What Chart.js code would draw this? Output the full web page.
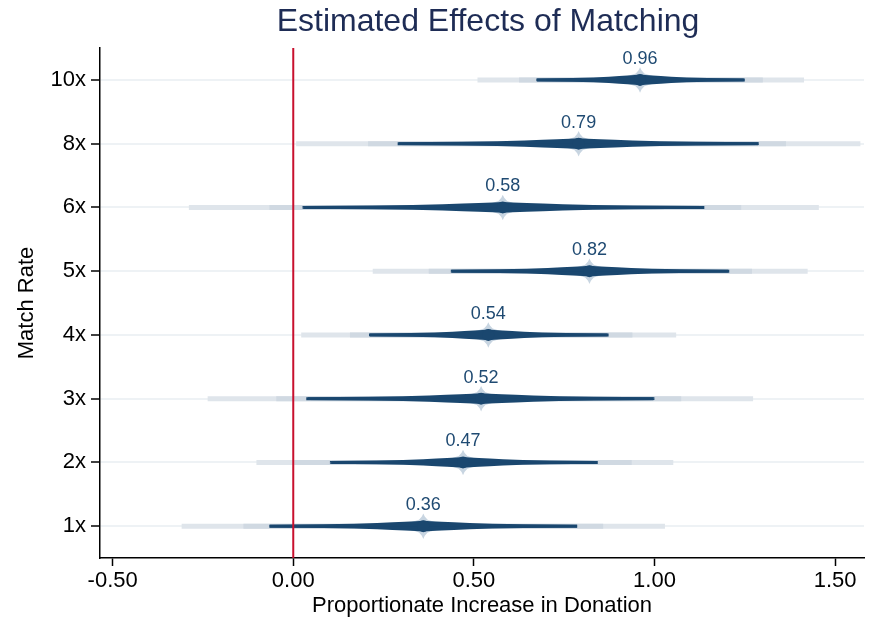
<!DOCTYPE html>
<html lang="en">
<head>
<meta charset="UTF-8">
<title>Estimated Effects of Matching</title>
<script src="https://cdn.jsdelivr.net/npm/chart.js"></script>
<style>
    body { margin: 0; background: #fff; }
</style>
</head>
<body>
<canvas id="effectsChart" width="870" height="619"></canvas>
<script>
// rows from bottom to top
const matchRates = ['1x', '2x', '3x', '4x', '5x', '6x', '8x', '10x'];
const estimates  = [0.36, 0.47, 0.52, 0.54, 0.82, 0.58, 0.79, 0.96];
// dark band
const ci90Low  = [-0.066, 0.105, 0.036, 0.212, 0.438, 0.028, 0.289, 0.675];
const ci90High = [ 0.786, 0.843, 0.997, 0.873, 1.207, 1.138, 1.287, 1.250];
// middle grey band
const ci95Low  = [-0.138, 0.003, -0.047, 0.157, 0.375, -0.066, 0.207, 0.625];
const ci95High = [ 0.858, 0.937, 1.074, 0.939, 1.270, 1.240, 1.364, 1.300];
// pale outer band
const ci99Low  = [-0.309, -0.102, -0.237, 0.022, 0.220, -0.289, 0.008, 0.510];
const ci99High = [ 1.029, 1.052, 1.273, 1.060, 1.424, 1.455, 1.570, 1.414];
const xTicks = [-0.5, 0, 0.5, 1, 1.5];

// violin outline:
// offset as a share of the dark band half-width, half-height in row units
const violinOffset = [-1, -0.65, -0.45, -0.3, -0.2, -0.12, -0.05, 0, 0.05, 0.12, 0.2, 0.3, 0.45, 0.65, 1];
const violinHalf   = [0.022, 0.028, 0.037, 0.05, 0.062, 0.07, 0.078, 0.086, 0.078, 0.07, 0.062, 0.05, 0.037, 0.028, 0.022];
// pale spike behind each estimate (offset in x units, half-height in row units)
const spikeOffset = [-0.06, -0.03, -0.012, -0.004, 0, 0.004, 0.012, 0.03, 0.06];
const spikeHalf   = [0.03, 0.07, 0.1, 0.15, 0.2, 0.15, 0.1, 0.07, 0.03];

const navy = '#1a476f';
const font = '"Liberation Sans", Arial, sans-serif';

function segment(lo, hi, y, color, width, order) {
    return {
        type: 'line',
        data: [{x: lo, y: y}, {x: hi, y: y}],
        borderColor: color,
        borderWidth: width,
        borderCapStyle: 'butt',
        pointRadius: 0,
        order: order
    };
}

function area(points, y, color, order) {
    return {
        type: 'line',
        data: points,
        borderWidth: 0,
        pointRadius: 0,
        backgroundColor: color,
        fill: {value: y},
        order: order
    };
}

const datasets = [];
matchRates.forEach(function (rate, i) {
    const y = i + 1;
    const est = estimates[i];
    const half = (ci90High[i] - ci90Low[i]) / 2;

    datasets.push(segment(ci99Low[i], ci99High[i], y, '#dfe5eb', 5, 10));
    datasets.push(segment(ci95Low[i], ci95High[i], y, '#d0d9e2', 5, 9));

    datasets.push(area(spikeOffset.map((o, k) => ({x: est + o, y: y + spikeHalf[k]})), y, '#c8d5e1', 8));
    datasets.push(area(spikeOffset.map((o, k) => ({x: est + o, y: y - spikeHalf[k]})), y, '#c8d5e1', 8));

    datasets.push(segment(ci90Low[i], ci90High[i], y, navy, 3, 7));

    datasets.push(area(violinOffset.map((o, k) => ({x: est + o * half, y: y + violinHalf[k]})), y, navy, 6));
    datasets.push(area(violinOffset.map((o, k) => ({x: est + o * half, y: y - violinHalf[k]})), y, navy, 6));

    datasets.push({
        type: 'scatter',
        data: [{x: est, y: y}],
        pointRadius: 6,
        pointBackgroundColor: navy,
        pointBorderWidth: 0,
        order: 5
    });
});

// zero reference line
datasets.push({
    type: 'line',
    data: [{x: 0, y: 0.5}, {x: 0, y: 8.5}],
    borderColor: '#c8102e',
    borderWidth: 2,
    pointRadius: 0,
    order: 1
});

const valueLabels = {
    id: 'valueLabels',
    afterDatasetsDraw(chart) {
        const ctx = chart.ctx;
        const xs = chart.scales.x;
        const ys = chart.scales.y;
        ctx.save();
        ctx.font = '18px ' + font;
        ctx.fillStyle = '#1f4a72';
        ctx.textAlign = 'center';
        ctx.textBaseline = 'middle';
        estimates.forEach(function (est, i) {
            ctx.fillText(est.toFixed(2), xs.getPixelForValue(est), ys.getPixelForValue(i + 1) - 21);
        });
        ctx.restore();
    }
};

const chartTitle = {
    id: 'chartTitle',
    afterDraw(chart) {
        const ctx = chart.ctx;
        const area = chart.chartArea;
        ctx.save();
        ctx.font = '32px ' + font;
        ctx.fillStyle = '#1e2c55';
        ctx.textAlign = 'center';
        ctx.textBaseline = 'middle';
        ctx.fillText('Estimated Effects of Matching', (area.left + area.right) / 2 + 6, 22);
        ctx.restore();
    }
};

new Chart(document.getElementById('effectsChart'), {
    data: {datasets: datasets},
    options: {
        responsive: false,
        animation: false,
        devicePixelRatio: 1,
        layout: {padding: {top: 48, right: 2, left: 0, bottom: 0}},
        plugins: {
            legend: {display: false},
            tooltip: {enabled: false}
        },
        scales: {
            x: {
                type: 'linear',
                min: -0.535,
                max: 1.58,
                afterBuildTicks: s => { s.ticks = xTicks.map(v => ({value: v})); },
                afterFit: s => { s.height = 61; },
                ticks: {
                    callback: v => Number(v).toFixed(2),
                    font: {size: 22, family: font},
                    color: '#000',
                    padding: 2,
                    maxRotation: 0
                },
                grid: {drawOnChartArea: false, tickColor: '#000', tickLength: 8, tickWidth: 1.5},
                border: {color: '#000', width: 1.5},
                title: {
                    display: true,
                    text: 'Proportionate Increase in Donation',
                    font: {size: 22, family: font},
                    color: '#000',
                    padding: {top: 0, bottom: 0}
                }
            },
            y: {
                type: 'linear',
                min: 0.5,
                max: 8.5,
                afterBuildTicks: s => { s.ticks = matchRates.map((r, i) => ({value: i + 1})); },
                afterFit: s => { s.width = 100; },
                ticks: {
                    callback: v => matchRates[Math.round(v) - 1],
                    font: {size: 22, family: font},
                    color: '#000',
                    padding: 5
                },
                grid: {color: '#eef2f5', lineWidth: 2, tickColor: '#000', tickLength: 9, tickWidth: 1.5},
                border: {color: '#000', width: 1.5},
                title: {
                    display: true,
                    text: 'Match Rate',
                    font: {size: 22, family: font},
                    color: '#000',
                    padding: {top: 14, bottom: 0}
                }
            }
        }
    },
    plugins: [valueLabels, chartTitle]
});
</script>
</body>
</html>
